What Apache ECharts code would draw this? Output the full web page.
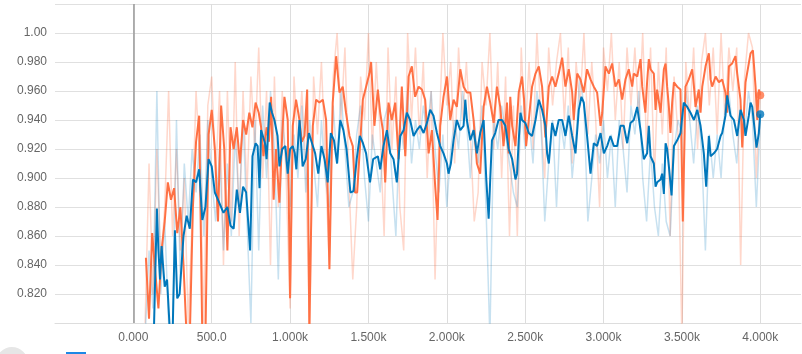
<!DOCTYPE html>
<html>
<head>
<meta charset="utf-8">
<script src="https://cdn.jsdelivr.net/npm/echarts@6/dist/echarts.min.js"></script>
<style>
  html, body { margin: 0; padding: 0; background: #fff; }
  #chart-container { width: 802px; height: 354px; }
</style>
</head>
<body>
<div id="chart-container"></div>
<script>
// smoothed orange run
var osSteps = [80,100,120,140,160,180,200,220,240,260,280,300,320,340,360,380,400,420,440,460,480,500,520,540,560,580,600,620,640,660,680,700,720,740,760,780,
  800,815,830,850,865,879,895,910,932,950,964,985,1000,1017,1038,1060,1075,1092,1109,1123,1145,1166,1187,1209,1230,1251,1272,1294,1315,1336,1357,1379,1400,1414,1428,1445,1464,1485,1506,1517,1538,1560,1575,1592,
  1607,1628,1649,1671,1692,1713,1735,1756,1777,1798,1820,1841,1862,1884,1905,1926,1941,1958,1979,2001,2022,2043,2064,2086,2107,2128,2150,2171,2192,2213,2235,2256,2277,2299,2320,2341,2362,2384,
  2395,2405,2417,2438,2459,2480,2493,2506,2523,2544,2566,2587,2608,2629,2651,2672,2693,2714,2736,2757,2778,2800,2810,2832,2853,2874,2895,2917,2938,2959,2981,2992,3012,3034,3055,3076,3098,3119,3140,3161,3183,3193,
  3215,3236,3247,3267,3278,3289,3300,3321,3332,3342,3364,3385,3396,3406,3417,3427,3438,3449,3470,3491,3506,3523,3544,3566,3577,3587,3608,3619,3630,3651,3672,3683,3693,3715,3736,3757,3778,3789,3800,3821,3842,3853,3874,3885,3906,3927,3938,3953,3970,3981,3991,4000];
var osVals = [.845,.803,.862,.835,.81,.85,.87,.897,.885,.893,.862,.88,.84,.79,.79,.88,.925,.943,.79,.79,.93,.947,.92,.87,.95,.92,.85,.935,.92,.935,.91,.94,.93,.945,.935,.952,
  .945,.935,.915,.935,.925,.956,.885,.92,.883,.93,.956,.94,.817,.936,.954,.94,.925,.929,.961,.795,.936,.954,.952,.954,.94,.837,.952,.984,.959,.963,.945,.929,.922,.89,.89,.92,.954,.963,.972,.98,.936,.961,.945,.933,
  .897,.952,.94,.952,.913,.963,.915,.97,.977,.956,.963,.961,.954,.917,.933,.894,.871,.936,.956,.97,.94,.954,.949,.975,.963,.959,.959,.94,.91,.903,.949,.963,.952,.938,.963,.949,.922,.952,
  .917,.956,.936,.922,.959,.97,.954,.922,.94,.963,.972,.977,.963,.928,.963,.97,.963,.972,.983,.963,.975,.959,.94,.972,.968,.959,.975,.968,.963,.959,.936,.945,.977,.972,.979,.963,.968,.954,.968,.975,.963,.972,
  .97,.982,.963,.945,.966,.982,.975,.972,.947,.961,.945,.975,.979,.963,.949,.931,.952,.966,.963,.961,.87,.963,.968,.975,.963,.949,.961,.945,.963,.977,.986,.968,.963,.97,.966,.968,.959,.945,.977,.979,.984,.972,.954,.921,.966,.979,.986,.988,.963,.94,.961,.957];

// smoothed blue run
var bsSteps = [130,150,160,170,180,200,215,235,250,265,280,295,320,340,360,380,400,420,440,460,480,500,520,540,575,600,620,640,660,680,700,720,745,760,780,
  793,805,815,840,850,870,885,900,920,932,950,970,985,1000,1017,1030,1040,1060,1080,1100,1120,1140,1160,1180,1200,1220,1240,1260,1280,1300,1320,1340,1360,1385,1405,1425,1445,1465,1485,1510,1530,1560,
  1575,1596,1618,1639,1660,1681,1703,1724,1745,1766,1788,1809,1830,1852,1873,1894,1915,1937,1958,1979,2001,2011,2026,2043,2064,2086,2107,2118,2128,2150,2171,2192,2213,2235,2252,2267,2277,2288,2309,2330,2352,2374,
  2395,2417,2438,2448,2459,2470,2480,2501,2523,2544,2566,2587,2608,2629,2640,2651,2672,2693,2714,2736,2757,2778,2800,2821,2842,2859,2874,2895,2917,2938,2959,2981,3002,3023,3044,3066,3087,3108,3129,3151,3172,
  3193,3215,3236,3257,3278,3289,3300,3321,3332,3342,3364,3374,3385,3396,3406,3417,3434,3449,3470,3491,3512,3534,3555,3577,3598,3619,3640,3655,3672,3683,3704,3725,3747,3757,3778,3789,3810,3832,3853,3874,3896,3906,3927,3938,3949,3976,3991,4000];
var bsVals = [.79,.879,.85,.83,.853,.825,.83,.79,.79,.864,.817,.82,.86,.874,.865,.899,.897,.906,.871,.88,.913,.908,.89,.885,.876,.88,.867,.865,.892,.876,.894,.89,.85,.915,.924,
  .922,.893,.933,.924,.913,.952,.945,.94,.929,.908,.92,.922,.903,.92,.922,.917,.906,.94,.908,.913,.931,.924,.917,.903,.922,.913,.897,.931,.926,.91,.94,.933,.92,.89,.891,.913,.929,.924,.917,.897,.913,.915,
  .906,.922,.933,.917,.913,.897,.929,.933,.945,.94,.929,.933,.936,.931,.938,.947,.943,.931,.922,.917,.91,.903,.91,.926,.94,.933,.936,.954,.94,.926,.933,.917,.931,.94,.899,.872,.899,.926,.931,.94,.94,.936,
  .92,.913,.899,.903,.926,.945,.94,.938,.931,.929,.94,.954,.947,.936,.917,.91,.938,.929,.94,.94,.929,.943,.929,.917,.947,.956,.952,.929,.903,.924,.922,.931,.917,.922,.929,.922,.922,.936,.936,.924,.938,
  .94,.949,.933,.913,.917,.936,.915,.91,.894,.897,.899,.903,.889,.924,.92,.908,.888,.922,.926,.931,.952,.949,.945,.94,.947,.936,.917,.894,.929,.915,.917,.92,.929,.931,.943,.957,.943,.94,.929,.947,.94,.929,.943,.952,.949,.921,.931,.944];

// raw values, one every 25 steps from 75 to 4000
var rawSteps = [];
for (var s = 75; s <= 4000; s += 25) rawSteps.push(s);
var roVals = [.80,.91,.82,.92,.84,.88,.96,.86,.92,.85,.90,.80,.87,.96,.91,.80,.95,.97,.90,.96,.84,.96,.87,.98,.86,.96,.89,.97,.92,.99,
  .90,.96,.84,.97,.88,.96,.90,.81,.97,.92,.96,.91,.79,.97,.93,.98,.91,.84,.97,1.00,.94,.99,.90,.83,.88,.97,.94,1.00,.92,.98,
  .93,.86,.99,.92,.97,.88,.85,1.00,.94,.99,.93,.98,.90,.96,.83,.93,1.00,.95,.98,.91,.99,.94,.98,.93,.87,.89,.98,.95,1.00,.92,
  .98,.90,.97,.86,.95,.86,.99,.93,.98,.92,1.00,.94,.90,.99,.95,.98,1.00,.94,.99,.91,.98,.95,1.00,.93,.98,.94,.88,.99,.96,1.00,
  .94,.98,.92,.99,.95,.99,.94,1.00,.92,.99,.90,.98,.93,.99,.86,.97,.93,.79,.98,.94,.99,.92,.98,1.00,.95,.99,.93,1.00,.94,.99,
  .96,.99,.84,.97,1.00,.99,.90,.96];
var rbVals = [.79,.85,.81,.96,.82,.87,.80,.79,.94,.83,.91,.87,.92,.89,.93,.86,.94,.90,.87,.92,.85,.91,.86,.93,.88,.94,.87,.80,.94,.85,
  .95,.90,.96,.92,.83,.94,.91,.88,.93,.90,.95,.89,.94,.91,.88,.94,.90,.88,.95,.91,.96,.92,.88,.89,.93,.95,.90,.87,.93,.91,
  .89,.94,.95,.90,.86,.94,.92,.96,.91,.94,.92,.95,.93,.96,.92,.89,.93,.88,.92,.94,.92,.96,.94,.90,.94,.91,.95,.88,.79,.94,
  .92,.95,.93,.91,.89,.88,.95,.92,.94,.91,.96,.94,.87,.91,.94,.88,.94,.92,.95,.90,.93,.97,.95,.87,.90,.93,.91,.94,.90,.93,
  .88,.94,.92,.89,.95,.93,.96,.90,.87,.92,.88,.86,.91,.87,.86,.92,.94,.93,.96,.94,.91,.95,.92,.85,.93,.90,.93,.90,.95,.96,
  .93,.91,.95,.93,.96,.94,.88,.94];

var orange = "#ff7043";
var blue = "#0077bb";

function pairs(xs, ys) {
  return xs.map(function (x, i) { return [x, ys[i]]; });
}

var dom = document.getElementById("chart-container");
var myChart = echarts.init(dom, null, { renderer: "canvas" });

var option = {
  animation: false,
  backgroundColor: "#fff",
  grid: { left: 55, right: 1, top: 4, bottom: 31, outerBoundsMode: "none", containLabel: false },
  xAxis: {
    type: "value",
    min: -500,
    max: 4260,
    interval: 500,
    axisLine: { show: true, lineStyle: { color: "#ddd" } },
    axisTick: { show: false },
    splitLine: { show: true, showMinLine: false, showMaxLine: false, lineStyle: { color: "#ddd" } },
    axisLabel: {
      margin: 9,
      color: "#666",
      fontSize: 12,
      fontFamily: "Liberation Sans, Helvetica, Arial",
      showMaxLabel: false,
      formatter: function (v) {
        if (v < 0 || v > 4000) return "";
        if (v === 0) return "0.000";
        if (v < 1000) return v.toFixed(1);
        return (v / 1000).toFixed(3) + "k";
      }
    }
  },
  yAxis: {
    type: "value",
    min: 0.80,
    max: 1.02,
    interval: 0.02,
    axisLine: { show: false },
    axisTick: { show: true, length: 4, lineStyle: { color: "#ddd" } },
    splitLine: { show: true, lineStyle: { color: "#e0e0e0" } },
    axisLabel: {
      margin: 8,
      color: "#666",
      fontSize: 12,
      fontFamily: "Liberation Sans, Helvetica, Arial",
      formatter: function (v) {
        if (v < 0.81 || v > 1.01) return "";
        if (Math.abs(v - 1) < 1e-6) return "1.00";
        return v.toFixed(3);
      }
    }
  },
  series: [
    {
      type: "line",
      data: pairs(rawSteps, roVals),
      showSymbol: false,
      lineStyle: { color: orange, width: 1.5, opacity: 0.28 },
      z: 1,
      markLine: {
        silent: true,
        symbol: "none",
        label: { show: false },
        lineStyle: { color: "#999", width: 1.5, type: "solid" },
        data: [{ xAxis: 0 }]
      }
    },
    {
      type: "line",
      data: pairs(rawSteps, rbVals),
      showSymbol: false,
      lineStyle: { color: blue, width: 1.5, opacity: 0.22 },
      z: 1
    },
    {
      type: "line",
      data: pairs(osSteps, osVals),
      showSymbol: false,
      lineStyle: { color: orange, width: 2 },
      z: 2
    },
    {
      type: "line",
      data: pairs(bsSteps, bsVals),
      showSymbol: false,
      lineStyle: { color: blue, width: 2 },
      z: 3
    },
    {
      type: "scatter",
      data: [[osSteps[osSteps.length - 1], osVals[osVals.length - 1]]],
      symbolSize: 8,
      itemStyle: { color: orange },
      z: 4
    },
    {
      type: "scatter",
      data: [[bsSteps[bsSteps.length - 1], bsVals[bsVals.length - 1]]],
      symbolSize: 8,
      itemStyle: { color: blue },
      z: 4
    }
  ],
  graphic: [
    { type: "circle", shape: { cx: 12, cy: 363, r: 16 }, style: { fill: "#e6e6e6" } },
    { type: "rect", shape: { x: 66, y: 352, width: 20, height: 4 }, style: { fill: "#1e88e5" } }
  ]
};

myChart.setOption(option);
window.addEventListener("resize", myChart.resize);
</script>
</body>
</html>
